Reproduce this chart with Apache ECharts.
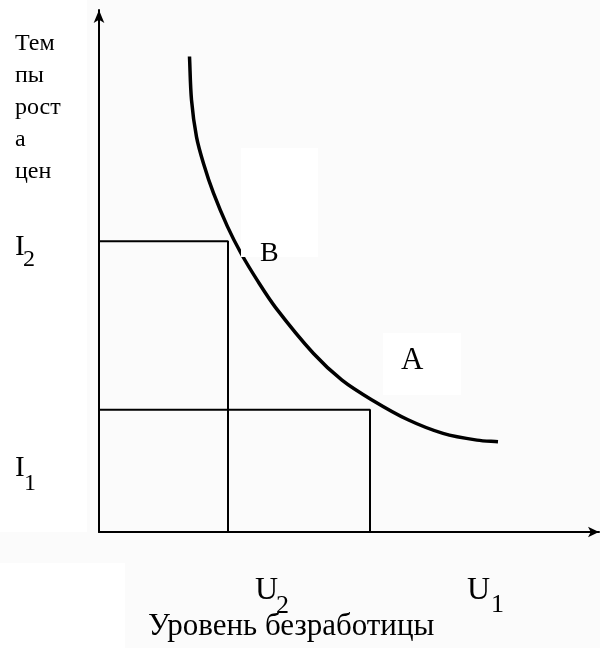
<!DOCTYPE html>
<html>
<head>
<meta charset="utf-8">
<script src="https://cdn.jsdelivr.net/npm/echarts@6/dist/echarts.min.js"></script>
<style>html,body{margin:0;padding:0;background:#fff}#c{width:600px;height:648px}</style>
</head>
<body>
<div id="c"></div>
<script>
// Phillips curve: unemployment (x) vs inflation (y)
const curveU = [1.81, 1.85, 1.95, 2.09, 2.29, 2.57, 2.84, 3.16, 3.54, 4.29, 4.86, 5.46, 6.18, 6.88, 7.56, 7.98];
const curveI = [9.11, 8.28, 7.57, 7.06, 6.49, 5.85, 5.34, 4.83, 4.29, 3.42, 2.91, 2.53, 2.15, 1.89, 1.76, 1.73];
// guide rectangles from origin: corner at (boxU, boxI)
const boxU = [2.58, 5.42];
const boxI = [5.57, 2.34];
// texts
const yTitle = 'Тем\nпы\nрост\nа\nцен';
const xTitle = 'Уровень безработицы';
const levelMain = ['I', 'I', 'U', 'U'];
const levelSub = ['2', '1', '2', '1'];
const pointLabels = ['B', 'A'];

const FONT = '"Liberation Serif", "Times New Roman", serif';
const chart = echarts.init(document.getElementById('c'), null, {renderer: 'canvas'});

const guideSeries = boxU.map((u, i) => ({
  type: 'line', z: 3, silent: true, symbol: 'none', animation: false,
  lineStyle: {color: '#000', width: 2},
  data: [[0, boxI[i]], [u, boxI[i]], [u, 0]]
}));

// smooth curve through the data points (chord-length Catmull-Rom), drawn via the axes' coord mapping
function curveItem(params, api) {
  if (params.dataIndex !== 0) return null;
  const p = curveU.map((u, i) => api.coord([u, curveI[i]]));
  const n = p.length;
  const d = [];
  for (let i = 0; i < n - 1; i++) d.push(Math.hypot(p[i + 1][0] - p[i][0], p[i + 1][1] - p[i][1]));
  const t = p.map((pt, i) => {
    if (i === 0) return [(p[1][0] - p[0][0]) / d[0], (p[1][1] - p[0][1]) / d[0]];
    if (i === n - 1) return [(p[n - 1][0] - p[n - 2][0]) / d[n - 2], (p[n - 1][1] - p[n - 2][1]) / d[n - 2]];
    const s = d[i - 1] + d[i];
    return [(p[i + 1][0] - p[i - 1][0]) / s, (p[i + 1][1] - p[i - 1][1]) / s];
  });
  let path = 'M' + p[0][0] + ' ' + p[0][1];
  for (let i = 0; i < n - 1; i++) {
    const k = d[i] / 3;
    path += ' C' + (p[i][0] + t[i][0] * k) + ' ' + (p[i][1] + t[i][1] * k) + ' ' +
      (p[i + 1][0] - t[i + 1][0] * k) + ' ' + (p[i + 1][1] - t[i + 1][1] * k) + ' ' +
      p[i + 1][0] + ' ' + p[i + 1][1];
  }
  return {type: 'path', shape: {pathData: path}, style: {stroke: '#000', lineWidth: 3.5, fill: null}};
}

function txt(text, x, y, size) {
  return {
    type: 'text', x: x, y: y, z: 20, silent: true,
    style: {text: text, font: size + 'px ' + FONT, fill: '#000', verticalAlign: 'middle', align: 'left'}
  };
}

const graphics = [
  // white label boxes over the faint background
  {type: 'rect', z: -5, shape: {x: 0, y: 0, width: 87, height: 532}, style: {fill: '#fff'}, silent: true},
  {type: 'rect', z: -5, shape: {x: 0, y: 563, width: 125, height: 85}, style: {fill: '#fff'}, silent: true},
  {type: 'rect', z: 10, shape: {x: 241, y: 148, width: 77, height: 109}, style: {fill: '#fff'}, silent: true},
  {type: 'rect', z: 10, shape: {x: 383, y: 333, width: 78, height: 62}, style: {fill: '#fff'}, silent: true},
  // y title
  {type: 'text', x: 15, y: 28, z: 20, silent: true,
   style: {text: yTitle, font: '24px ' + FONT, fill: '#000', verticalAlign: 'top', lineHeight: 32}},
  // level labels
  txt(levelMain[0], 15, 247, 29), txt(levelSub[0], 23, 260, 24),
  txt(levelMain[1], 15, 468, 29), txt(levelSub[1], 24, 484, 24),
  txt(levelMain[2], 255, 591, 32), txt(levelSub[2], 276, 606, 26),
  txt(levelMain[3], 467, 591, 32), txt(levelSub[3], 491, 605, 26),
  // point labels
  txt(pointLabels[0], 260, 254, 28),
  txt(pointLabels[1], 401, 361, 31),
  // x title
  txt(xTitle, 148, 627, 31)
];

chart.setOption({
  backgroundColor: '#fbfbfb',
  animation: false,
  grid: {left: 99, right: 1, top: 10, bottom: 116, containLabel: false},
  xAxis: {
    type: 'value', min: 0, max: 10, z: 3,
    axisLine: {show: true, onZero: false, symbol: ['none', 'arrow'], symbolSize: [8, 11], lineStyle: {color: '#000', width: 2}},
    axisTick: {show: false}, axisLabel: {show: false}, splitLine: {show: false}
  },
  yAxis: {
    type: 'value', min: 0, max: 10, z: 3,
    axisLine: {show: true, onZero: false, symbol: ['none', 'arrow'], symbolSize: [8, 13], lineStyle: {color: '#000', width: 2}},
    axisTick: {show: false}, axisLabel: {show: false}, splitLine: {show: false}
  },
  series: guideSeries.concat([{
    type: 'custom', z: 4, silent: true, clip: false,
    renderItem: curveItem,
    encode: {x: 0, y: 1},
    data: curveU.map((u, i) => [u, curveI[i]])
  }]),
  graphic: {elements: graphics}
});
</script>
</body>
</html>
